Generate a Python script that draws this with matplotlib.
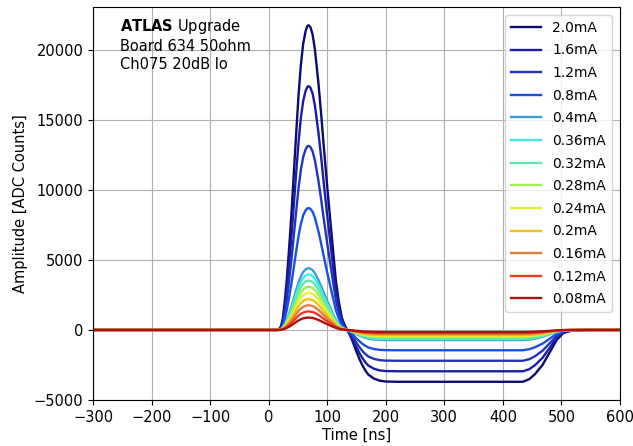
import matplotlib
matplotlib.use("Agg")
import matplotlib.pyplot as plt
import numpy as np

labels = ["2.0mA", "1.6mA", "1.2mA", "0.8mA", "0.4mA", "0.36mA", "0.32mA",
          "0.28mA", "0.24mA", "0.2mA", "0.16mA", "0.12mA", "0.08mA"]
peaks = [21750, 17400, 13140, 8700, 4400, 3960, 3520, 3080, 2650, 2200, 1760, 1320, 880]
undershoots = [3700, 2950, 2200, 1450, 720, 650, 580, 510, 440, 370, 290, 220, 150]
colors = ["#0b0b70", "#1a1ca8", "#2233bb", "#1a50e0", "#3a9fd0", "#40efe0", "#60e8b0",
          "#a2f050", "#e2f040", "#f2c010", "#e08040", "#f03a20", "#b01010"]

# sampled pulse shape (read from the picture): positive lobe normalised to the peak,
# negative lobe normalised to the undershoot plateau
times = [-300, 0, 15, 18, 21, 24, 27, 31, 35, 39, 43, 47, 51, 55, 59, 63, 66, 68, 71,
         75, 79, 82, 85, 90, 94, 100, 105, 110, 115, 120, 125, 130, 134, 138, 142,
         146, 150, 155, 160, 165, 170, 180, 190, 200, 220, 300, 400, 434, 445, 455,
         468, 480, 492, 503, 515, 530, 550, 600]
pos_lobe = [0, 0, 0, 0.003, 0.012, 0.035, 0.085, 0.165, 0.27, 0.385, 0.515, 0.645,
            0.77, 0.87, 0.94, 0.98, 0.997, 1.0, 0.995, 0.97, 0.92, 0.865, 0.81, 0.7,
            0.605, 0.47, 0.365, 0.26, 0.158, 0.09, 0.04, 0.015, 0.004, 0, 0,
            0, 0, 0, 0, 0, 0, 0, 0, 0, 0, 0, 0, 0, 0, 0, 0, 0, 0, 0, 0, 0, 0, 0]
neg_lobe = [0, 0, 0, 0, 0, 0, 0, 0, 0, 0, 0, 0, 0, 0, 0, 0, 0, 0, 0, 0, 0, 0, 0, 0, 0,
            0, 0, 0, 0, 0, 0, 0, -0.02, -0.08, -0.18, -0.3, -0.42, -0.56, -0.68,
            -0.78, -0.86, -0.94, -0.98, -0.995, -1.0, -1.0, -1.0, -1.0, -0.95, -0.85,
            -0.67, -0.43, -0.19, -0.06, -0.02, -0.005, 0, 0]

fig = plt.figure(figsize=(6.33, 4.46), dpi=100)
ax = fig.add_axes([93/633, 46/446, 527/633, 393/446])

t = np.array(times)
for lab, pk, us, c in zip(labels, peaks, undershoots, colors):
    y = pk * np.array(pos_lobe) + us * np.array(neg_lobe)
    ax.plot(t, y, color=c, lw=1.7, label=lab)

ax.set_xlim(-300, 600)
ax.set_ylim(-5000, 23050)
ax.set_xticks(np.arange(-300, 601, 100))
ax.set_yticks(np.arange(-5000, 20001, 5000))
ax.tick_params(labelsize=10.5)
ax.grid(True, color="#b0b0b0", lw=0.8)
ax.set_xlabel("Time [ns]", fontsize=10.5, labelpad=2)
ax.set_ylabel("Amplitude [ADC Counts]", fontsize=10.5)

ax.text(0.051, 0.975, r"$\bf{ATLAS}$ Upgrade" + "\nBoard 634 50ohm\nCh075 20dB lo",
        transform=ax.transAxes, ha="left", va="top", fontsize=10.5, linespacing=1.25)

ax.legend(loc="upper right", fontsize=10, labelspacing=0.62, handlelength=2.2,
          borderaxespad=0.6)

fig.savefig("out.png", dpi=100)
